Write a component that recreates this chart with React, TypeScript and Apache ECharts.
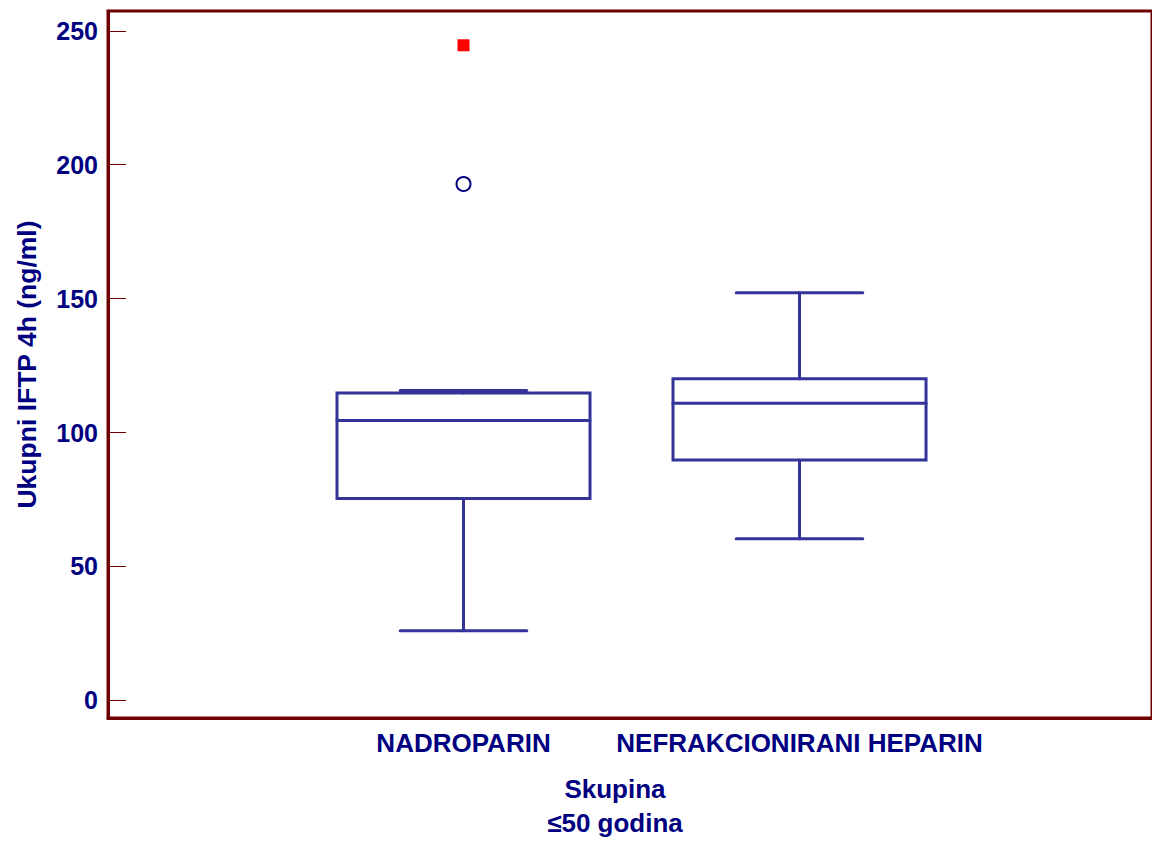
import React, { useEffect, useRef } from "react";
import * as echarts from "echarts";

// ---- data ----
const categories = ["NADROPARIN", "NEFRAKCIONIRANI HEPARIN"];
const groupPositions = [1, 2];
const whiskerLow = [26.0, 60.3];
const quartile1 = [75.4, 89.7];
const medians = [104.5, 110.9];
const quartile3 = [114.75, 120.1];
const whiskerHigh = [115.7, 152.2];
const outsideValues = [[1, 192.8]];
const farOutValues = [[1, 244.6]];
const yTickValues = [0, 50, 100, 150, 200, 250];
const yAxisTitle = "Ukupni IFTP 4h (ng/ml)";
const xAxisTitle = "Skupina\n≤50 godina";

// ---- styles ----
const FRAME = "#6e0000";
const TEXT = "#000080";
const BOX = "#333399";
const FONT = "'Liberation Sans', Arial, sans-serif";
const BOX_WIDTH = 0.753; // in x-axis units
const CAP_RATIO = 0.5;

export default function App() {
  const ref = useRef<HTMLDivElement>(null);

  useEffect(() => {
    document.body.style.margin = "0";
    if (!ref.current) return;
    const chart = echarts.init(ref.current, null, { renderer: "svg" });

    const boxData = groupPositions.map((x, i) => [
      x,
      whiskerLow[i],
      quartile1[i],
      medians[i],
      quartile3[i],
      whiskerHigh[i],
    ]);

    const option: any = {
      animation: false,
      backgroundColor: "#ffffff",
      grid: {
        left: 108,
        right: 0,
        top: 11,
        bottom: 123,
        show: true,
        borderColor: FRAME,
        borderWidth: 3,
        backgroundColor: "transparent",
        containLabel: false,
        outerBoundsMode: "none",
      },
      xAxis: {
        type: "value",
        min: -0.058,
        max: 3.049,
        splitLine: { show: false },
        axisLine: { show: true, onZero: false, lineStyle: { color: FRAME, width: 3 } },
        axisTick: { show: false, customValues: groupPositions },
        axisLabel: {
          customValues: groupPositions,
          formatter: (v: number) => categories[groupPositions.indexOf(v)] ?? "",
          color: TEXT,
          fontSize: 26,
          fontWeight: "bold",
          fontFamily: FONT,
          margin: 12,
        },
        name: xAxisTitle,
        nameLocation: "middle",
        nameGap: 54,
        nameTextStyle: {
          color: TEXT,
          fontSize: 26,
          fontWeight: "bold",
          fontFamily: FONT,
          lineHeight: 34,
          padding: [0, 30, 0, 0],
        },
      },
      yAxis: {
        type: "value",
        min: -6.61,
        max: 257.4,
        splitLine: { show: false },
        axisLine: { show: true, onZero: false, lineStyle: { color: FRAME, width: 3 } },
        axisTick: {
          show: true,
          inside: true,
          length: 18,
          customValues: yTickValues,
          lineStyle: { color: FRAME, width: 1 },
        },
        axisLabel: {
          customValues: yTickValues,
          color: TEXT,
          fontSize: 25,
          fontWeight: "bold",
          fontFamily: FONT,
          margin: 10,
        },
        name: yAxisTitle,
        nameLocation: "middle",
        nameGap: 68,
        nameTextStyle: {
          color: TEXT,
          fontSize: 26.5,
          fontWeight: "bold",
          fontFamily: FONT,
        },
      },
      series: [
        {
          type: "custom",
          data: boxData,
          encode: { x: 0, y: [1, 2, 3, 4, 5] },
          renderItem: (params: any, api: any) => {
            const x = api.value(0);
            const lo = api.coord([x, api.value(1)]);
            const b1 = api.coord([x, api.value(2)]);
            const m = api.coord([x, api.value(3)]);
            const b3 = api.coord([x, api.value(4)]);
            const hi = api.coord([x, api.value(5)]);
            const boxW = api.size([BOX_WIDTH, 0])[0];
            const capW = boxW * CAP_RATIO;
            const cx = lo[0];
            const st = { stroke: BOX, lineWidth: 3, fill: "none", lineCap: "round" };
            return {
              type: "group",
              children: [
                { type: "line", shape: { x1: cx, y1: hi[1], x2: cx, y2: b3[1] }, style: st },
                { type: "line", shape: { x1: cx, y1: b1[1], x2: cx, y2: lo[1] }, style: st },
                {
                  type: "rect",
                  shape: { x: cx - boxW / 2, y: b3[1], width: boxW, height: b1[1] - b3[1] },
                  style: { ...st, fill: "transparent" },
                },
                { type: "line", shape: { x1: cx - boxW / 2, y1: m[1], x2: cx + boxW / 2, y2: m[1] }, style: st },
                { type: "line", shape: { x1: cx - capW / 2, y1: hi[1], x2: cx + capW / 2, y2: hi[1] }, style: st },
                { type: "line", shape: { x1: cx - capW / 2, y1: lo[1], x2: cx + capW / 2, y2: lo[1] }, style: st },
              ],
            };
          },
          z: 2,
        },
        {
          type: "scatter",
          data: outsideValues,
          symbol: "circle",
          symbolSize: 14,
          itemStyle: { color: "#ffffff", borderColor: TEXT, borderWidth: 2, opacity: 1 },
          z: 3,
        },
        {
          type: "scatter",
          data: farOutValues,
          symbol: "rect",
          symbolSize: 12,
          itemStyle: { color: "#ff0000", opacity: 1 },
          z: 3,
        },
      ],
    };

    chart.setOption(option);
    return () => chart.dispose();
  }, []);

  return <div ref={ref} style={{ width: 1152, height: 841 }} />;
}
